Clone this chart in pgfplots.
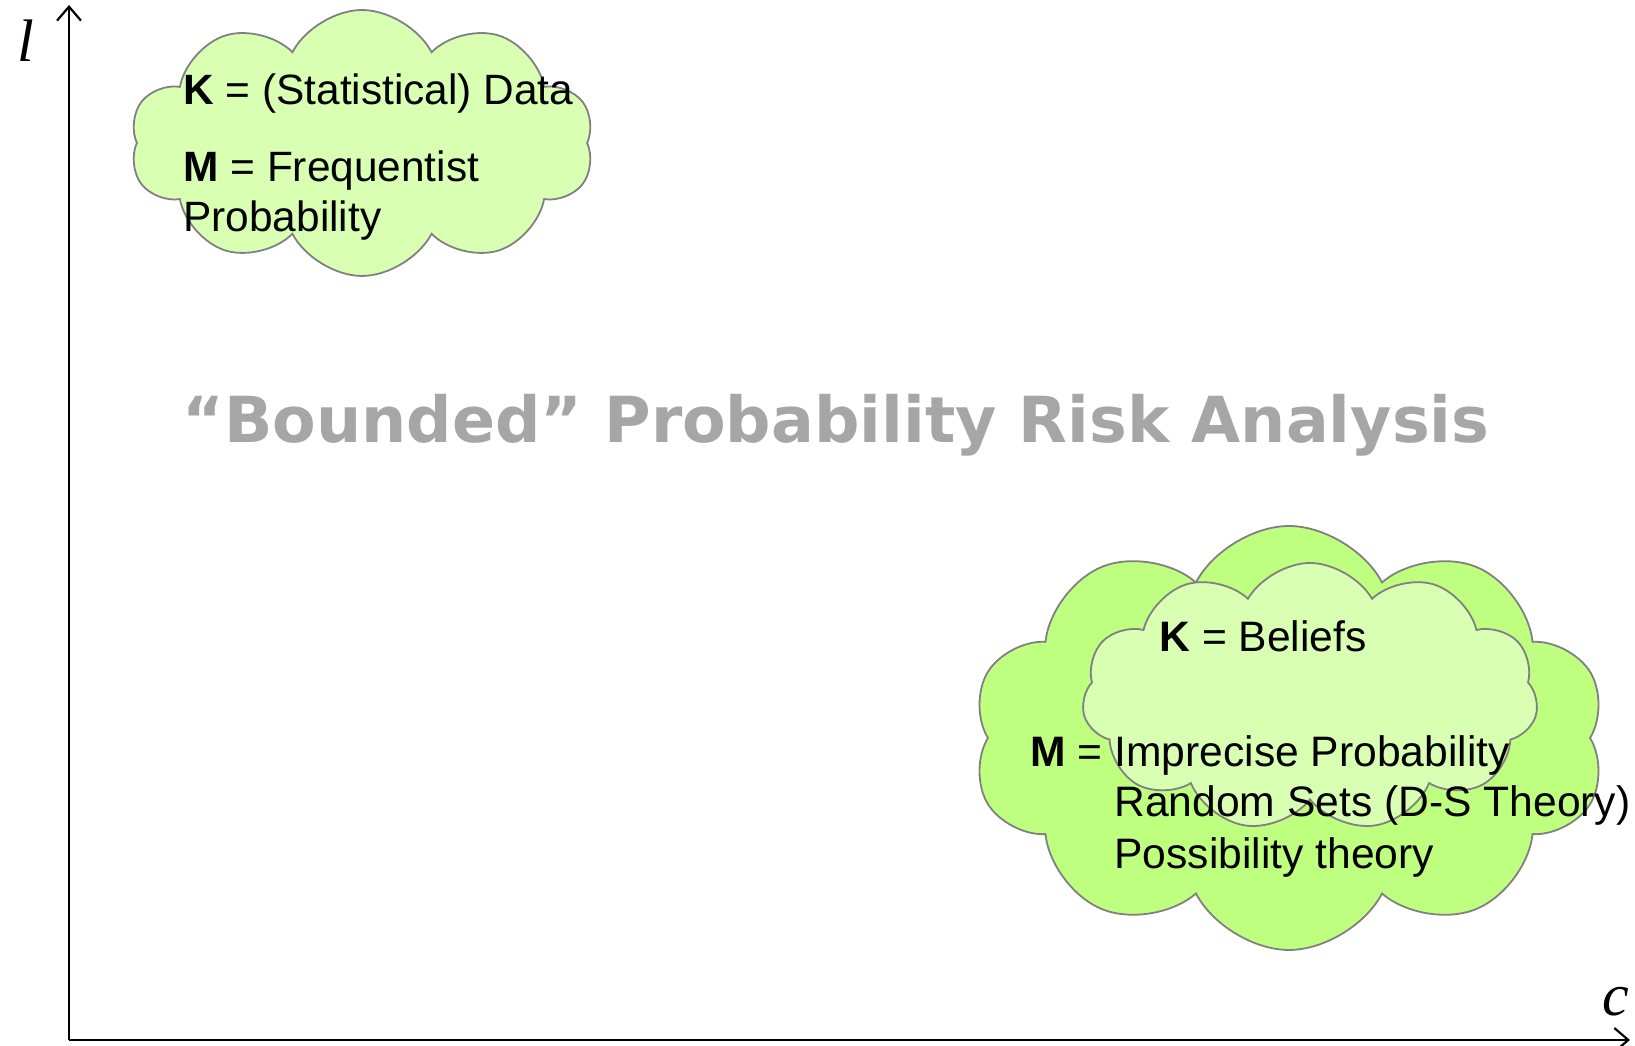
\documentclass[border=0pt]{standalone}
\usepackage{pgfplots}
\pgfplotsset{compat=1.18}
\usepackage{fontspec}
\setmainfont{Liberation Sans}
\newfontfamily\titlefont{DejaVu Sans}
\newfontfamily\serifit{Liberation Serif}
\usetikzlibrary{shapes.symbols,arrows.meta}
\definecolor{lightgreen}{RGB}{217,255,179}
\definecolor{midgreen}{RGB}{191,255,128}
\definecolor{cloudedge}{RGB}{128,128,128}
\definecolor{titlegray}{RGB}{166,166,166}
\begin{document}
\begin{tikzpicture}
\begin{axis}[
 scale only axis, width=780.5pt, height=517.5pt,
 xmin=69, xmax=1630, ymin=6, ymax=1041,
 axis lines=left, ticks=none, clip=false,
 axis line style={line width=1.1pt, -{Straight Barb[length=7pt,width=12pt,line width=1.1pt]}},
]
\coordinate (BL) at (axis cs:0,0);
\coordinate (TR) at (axis cs:1635,1046);
% upper cloud
\node[cloud, cloud puffs=10, cloud puff arc=125, draw=cloudedge, line width=0.9pt, fill=lightgreen, minimum width=232pt, minimum height=133pt, inner sep=0pt] at (axis cs:362,903) {};
\node[anchor=base west, inner sep=0pt, font=\fontsize{21.2}{21.2}\selectfont] at (axis cs:183,941) {\textbf{K} = (Statistical) Data};
\node[anchor=base west, inner sep=0pt, font=\fontsize{21.2}{21.2}\selectfont] at (axis cs:183,864) {\textbf{M} = Frequentist};
\node[anchor=base west, inner sep=0pt, font=\fontsize{21.2}{21.2}\selectfont] at (axis cs:183,814) {Probability};
% lower clouds
\node[cloud, cloud puffs=10, cloud puff arc=125, draw=cloudedge, line width=0.9pt, fill=midgreen, minimum width=317pt, minimum height=212pt, inner sep=0pt] at (axis cs:1289,308) {};
\node[cloud, cloud puffs=11, cloud puff arc=120, draw=cloudedge, line width=0.9pt, fill=lightgreen, minimum width=228pt, minimum height=134pt, inner sep=0pt] at (axis cs:1310,349) {};
\node[anchor=base west, inner sep=0pt, font=\fontsize{21.3}{21.3}\selectfont] at (axis cs:1159,394) {\textbf{K} = Beliefs};
\node[anchor=base west, inner sep=0pt, font=\fontsize{21.3}{21.3}\selectfont] at (axis cs:1030,279) {\textbf{M} = Imprecise Probability};
\node[anchor=base west, inner sep=0pt, font=\fontsize{21.3}{21.3}\selectfont] at (axis cs:1114,229) {Random Sets (D-S Theory)};
\node[anchor=base west, inner sep=0pt, font=\fontsize{21.3}{21.3}\selectfont] at (axis cs:1114,177) {Possibility theory};
% title
\node[anchor=base, inner sep=0pt, text=titlegray, font=\titlefont\bfseries\fontsize{31.75}{31.75}\selectfont] at (axis cs:836,603) {“Bounded” Probability Risk Analysis};
% axis labels
\node[anchor=base west, inner sep=0pt, font=\serifit\itshape\fontsize{30}{30}\selectfont] at (axis cs:17,984) {l};
\node[anchor=base west, inner sep=0pt, font=\serifit\itshape\fontsize{30}{30}\selectfont] at (axis cs:1602,30) {c};
\end{axis}
\pgfresetboundingbox
\path (BL) rectangle (TR);
\end{tikzpicture}
\end{document}
